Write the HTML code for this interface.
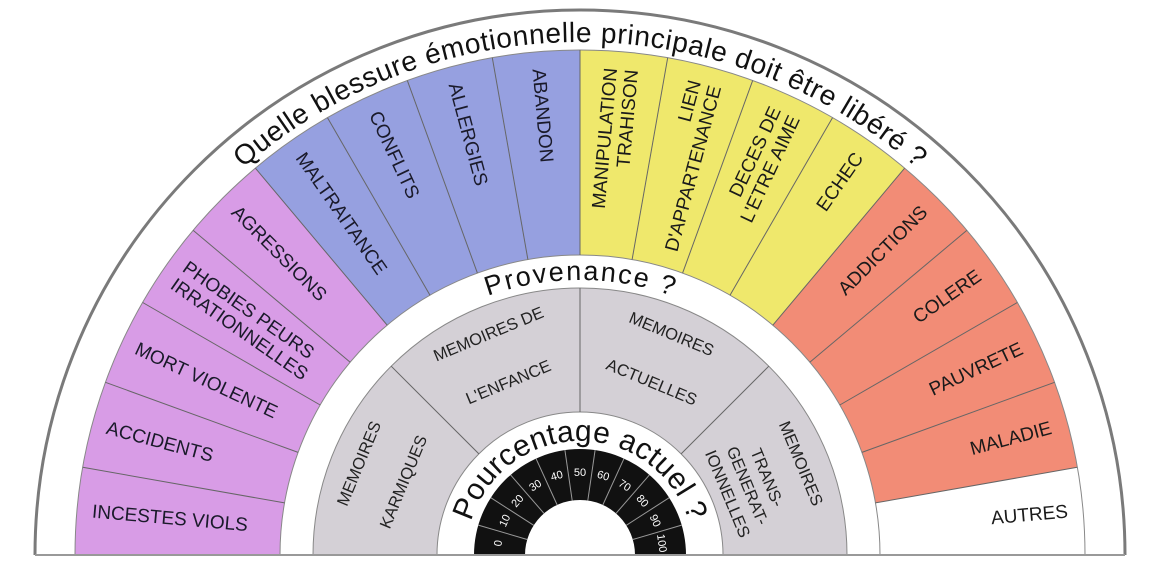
<!DOCTYPE html>
<html><head><meta charset="utf-8"><style>
html,body{margin:0;padding:0;background:#fff;}
svg{display:block;font-family:"Liberation Sans",Arial,sans-serif;}
</style></head><body>
<svg width="1155" height="564" viewBox="0 0 1155 564" xmlns="http://www.w3.org/2000/svg">
<defs>
<path id="t1" d="M67,555 A513,513 0 0 1 1093,555"/>
<path id="t2" d="M305,555 A275,275 0 0 1 855,555"/>
<path id="t3" d="M466,555 A114,114 0 0 1 694,555"/>
</defs>
<rect width="1155" height="564" fill="#fff"/>
<path d="M35,555 A545,545 0 0 1 1125,555" fill="none" stroke="#7a7a7a" stroke-width="3"/>
<path d="M75,555 A505,505 0 0 1 255.4,168.2 L387.2,325.2 A300,300 0 0 0 280,555 Z" fill="#d89ce6"/>
<path d="M255.4,168.2 A505,505 0 0 1 580,50 L580,255 A300,300 0 0 0 387.2,325.2 Z" fill="#96a0e0"/>
<path d="M580,50 A505,505 0 0 1 904.6,168.2 L772.8,325.2 A300,300 0 0 0 580,255 Z" fill="#efe86c"/>
<path d="M904.6,168.2 A505,505 0 0 1 1077.3,467.3 L875.4,502.9 A300,300 0 0 0 772.8,325.2 Z" fill="#f28c76"/>
<path d="M75,555 A505,505 0 0 1 1085,555" fill="none" stroke="#888" stroke-width="1"/>
<path d="M280,555 A300,300 0 0 1 880,555" fill="none" stroke="#888" stroke-width="1"/>
<g stroke="#666" stroke-width="1">
<line x1="82.7" y1="467.3" x2="284.6" y2="502.9"/>
<line x1="105.4" y1="382.3" x2="298.1" y2="452.4"/>
<line x1="142.7" y1="302.5" x2="320.2" y2="405"/>
<line x1="193.2" y1="230.4" x2="350.2" y2="362.2"/>
<line x1="255.4" y1="168.2" x2="387.2" y2="325.2"/>
<line x1="327.5" y1="117.7" x2="430" y2="295.2"/>
<line x1="407.3" y1="80.4" x2="477.4" y2="273.1"/>
<line x1="492.3" y1="57.7" x2="527.9" y2="259.6"/>
<line x1="580" y1="50" x2="580" y2="255"/>
<line x1="667.7" y1="57.7" x2="632.1" y2="259.6"/>
<line x1="752.7" y1="80.4" x2="682.6" y2="273.1"/>
<line x1="832.5" y1="117.7" x2="730" y2="295.2"/>
<line x1="904.6" y1="168.2" x2="772.8" y2="325.2"/>
<line x1="966.8" y1="230.4" x2="809.8" y2="362.2"/>
<line x1="1017.3" y1="302.5" x2="839.8" y2="405"/>
<line x1="1054.6" y1="382.3" x2="861.9" y2="452.4"/>
<line x1="1077.3" y1="467.3" x2="875.4" y2="502.9"/>
<line x1="75" y1="555" x2="280" y2="555"/>
<line x1="880" y1="555" x2="1085" y2="555"/>
</g>
<path d="M313,555 A267,267 0 0 1 847,555 L723,555 A143,143 0 0 0 437,555 Z" fill="#d4d0d6" stroke="#888" stroke-width="1"/>
<g stroke="#666" stroke-width="1">
<line x1="391.2" y1="366.2" x2="478.9" y2="453.9"/>
<line x1="580" y1="288" x2="580" y2="412"/>
<line x1="768.8" y1="366.2" x2="681.1" y2="453.9"/>
</g>
<path d="M474,555 A106,106 0 0 1 686,555 L635,555 A55,55 0 0 0 525,555 Z" fill="#111"/>
<g stroke="#999" stroke-width="1">
<line x1="527.2" y1="539.5" x2="478.3" y2="525.1"/>
<line x1="533.7" y1="525.3" x2="490.8" y2="497.7"/>
<line x1="544.0" y1="513.4" x2="510.6" y2="474.9"/>
<line x1="557.2" y1="505.0" x2="536.0" y2="458.6"/>
<line x1="572.2" y1="500.6" x2="564.9" y2="450.1"/>
<line x1="587.8" y1="500.6" x2="595.1" y2="450.1"/>
<line x1="602.8" y1="505.0" x2="624.0" y2="458.6"/>
<line x1="616.0" y1="513.4" x2="649.4" y2="474.9"/>
<line x1="626.3" y1="525.3" x2="669.2" y2="497.7"/>
<line x1="632.8" y1="539.5" x2="681.7" y2="525.1"/>
</g>
<g fill="#fff" font-size="11" text-anchor="middle" dominant-baseline="middle">
<text transform="translate(498.8,543.3) rotate(-81.8)">0</text>
<text transform="translate(505.4,520.9) rotate(-65.5)">10</text>
<text transform="translate(518.0,501.3) rotate(-49.1)">20</text>
<text transform="translate(535.7,486.0) rotate(-32.7)">30</text>
<text transform="translate(556.9,476.3) rotate(-16.4)">40</text>
<text transform="translate(580,473) rotate(0)">50</text>
<text transform="translate(603.1,476.3) rotate(16.4)">60</text>
<text transform="translate(624.3,486.0) rotate(32.7)">70</text>
<text transform="translate(642.0,501.3) rotate(49.1)">80</text>
<text transform="translate(654.6,520.9) rotate(65.5)">90</text>
<text transform="translate(661.2,543.3) rotate(81.8)">100</text>
</g>
<line x1="35" y1="555" x2="1125" y2="555" stroke="#999" stroke-width="2"/>
<text font-size="28" fill="#111"><textPath href="#t1" startOffset="50%" text-anchor="middle" textLength="735" lengthAdjust="spacing">Quelle blessure émotionnelle principale doit être libéré ?</textPath></text>
<text font-size="27" fill="#111"><textPath href="#t2" startOffset="50%" text-anchor="middle" textLength="188" lengthAdjust="spacing">Provenance ?</textPath></text>
<text font-size="30" fill="#111"><textPath href="#t3" startOffset="50%" text-anchor="middle" textLength="290" lengthAdjust="spacing">Pourcentage  actuel ?</textPath></text>
<g font-size="19" fill="#1a1a2a" dominant-baseline="middle">
<text transform="translate(92,512.5) rotate(5)">INCESTES VIOLS</text>
<text transform="translate(106.6,428.7) rotate(15)">ACCIDENTS</text>
<text transform="translate(135.7,348.8) rotate(25)">MORT VIOLENTE</text>
<g transform="translate(178.2,275.1) rotate(35)"><text y="-10.5">PHOBIES PEURS</text><text y="10.5">IRRATIONNELLES</text></g>
<text transform="translate(233.9,209.9) rotate(45)">AGRESSIONS</text>
<text transform="translate(299.1,155.2) rotate(55)">MALTRAITANCE</text>
<text transform="translate(373.3,112.7) rotate(65)">CONFLITS</text>
<text transform="translate(453.3,83.6) rotate(75)">ALLERGIES</text>
<text transform="translate(537.5,68.9) rotate(85)">ABANDON</text>
</g>
<g font-size="19" fill="#1a1a1a" dominant-baseline="middle" text-anchor="end">
<g transform="translate(622.5,68.9) rotate(-85)"><text y="-10.5">MANIPULATION</text><text y="10.5">TRAHISON</text></g>
<g transform="translate(706.3,83.6) rotate(-75)"><text y="-10.5">LIEN</text><text y="10.5">D'APPARTENANCE</text></g>
<g transform="translate(786.2,112.7) rotate(-65)"><text y="-10.5">DECES DE</text><text y="10.5">L'ETRE AIME</text></g>
<text transform="translate(859.9,155.2) rotate(-55)">ECHEC</text>
<text transform="translate(925.1,209.9) rotate(-45)">ADDICTIONS</text>
<text transform="translate(979.8,275.1) rotate(-35)">COLERE</text>
<text transform="translate(1022.3,348.8) rotate(-25)">PAUVRETE</text>
<text transform="translate(1051.4,428.7) rotate(-15)">MALADIE</text>
<text transform="translate(1068,512.5) rotate(-5)">AUTRES</text>
</g>
<g font-size="16.5" fill="#222" text-anchor="middle" dominant-baseline="middle">
<text transform="translate(488.9,335.1) rotate(-22.5)">MEMOIRES DE</text>
<text transform="translate(508.8,383.2) rotate(-22.5)">L'ENFANCE</text>
<text transform="translate(671.1,335.1) rotate(22.5)">MEMOIRES</text>
<text transform="translate(651.2,383.2) rotate(22.5)">ACTUELLES</text>
<text transform="translate(360.1,463.9) rotate(-67.5)">MEMOIRES</text>
<text transform="translate(404.5,482.3) rotate(-67.5)">KARMIQUES</text>
<text transform="translate(799.9,463.9) rotate(67.5)">MEMOIRES</text>
<text transform="translate(766,478) rotate(67.5)">TRANS-</text>
<text transform="translate(746.3,486.1) rotate(67.5)">GENERAT-</text>
<text transform="translate(726.5,494.3) rotate(67.5)">IONNELLES</text>
</g>
</svg>
</body></html>
